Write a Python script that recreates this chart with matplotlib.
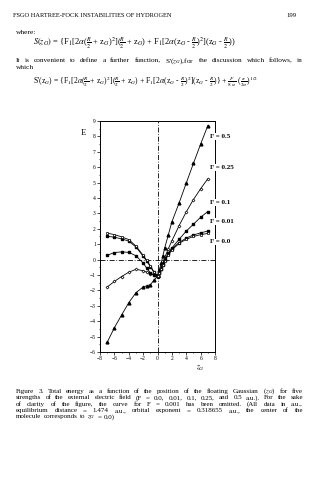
import numpy as np
import matplotlib
matplotlib.use('Agg')
import matplotlib.pyplot as plt

plt.rcParams['font.family'] = ['Liberation Serif', 'DejaVu Serif']
plt.rcParams['mathtext.fontset'] = 'stix'

# data (zG, E)
x_left = [-7, -6, -5, -4, -3, -2, -1.5, -1, -0.5, 0]
x_right = [0, 0.25, 0.5, 0.75, 1, 1.5, 2, 3, 4, 5, 6, 7]

e_f00_left = [1.72, 1.62, 1.48, 1.3, 0.88, 0.28, -0.05, -0.4, -0.8, -1.05]
e_f01_left = [1.52, 1.45, 1.35, 1.2, 0.82, 0.22, -0.1, -0.45, -0.82, -1.05]
e_f1_left = [0.28, 0.46, 0.5, 0.47, 0.25, -0.22, -0.55, -0.85, -1.0, -1.05]
e_f25_left = [-1.78, -1.42, -1.1, -0.82, -0.63, -0.72, -0.82, -0.92, -1.0, -1.05]
e_f5_left = [-5.37, -4.42, -3.6, -2.8, -2.15, -1.78, -1.7, -1.63, -1.35, -1.07]

e_f00_right = [-1.05, -0.85, -0.6, -0.35, -0.1, 0.3, 0.62, 1.05, 1.32, 1.5, 1.62, 1.7]
e_f01_right = [-1.05, -0.85, -0.6, -0.33, -0.05, 0.35, 0.7, 1.1, 1.4, 1.6, 1.74, 1.85]
e_f1_right = [-1.05, -0.85, -0.6, -0.3, 0.0, 0.4, 0.75, 1.32, 1.85, 2.3, 2.75, 3.12]
e_f25_right = [-1.05, -0.8, -0.5, -0.2, 0.12, 0.7, 1.22, 2.2, 3.1, 3.9, 4.6, 5.25]
e_f5_right = [-1.07, -0.7, -0.25, 0.25, 0.75, 1.6, 2.45, 3.67, 4.97, 6.25, 7.5, 8.7]

labels = ['F = 0.5', 'F = 0.25', 'F = 0.1', 'F = 0.01', 'F = 0.0']
label_y = [8.0, 5.97, 3.69, 2.49, 1.15]

caption = ["Figure 3. Total energy as a function of the position of the floating Gaussian ($z_G$) for five",
           "strengths of the external electric field (F = 0.0, 0.01, 0.1, 0.25, and 0.5 a.u.). For the sake",
           "of clarity of the figure, the curve for F = 0.001 has been omitted. (All data in a.u.,",
           "equilibrium distance = 1.474 a.u., orbital exponent = 0.318655 a.u., the center of the",
           "molecule corresponds to $z_G$ = 0.0)"]
body = ["It is convenient to define a further function, S'($z_G$),for the discussion which follows, in",
        "which"]
eq1 = (r"$S(z_G)$ = {F$_1$[2$\alpha$($\frac{R}{2}$ + z$_G$)$^2$]($\frac{R}{2}$ + z$_G$)"
       r" + F$_1$[2$\alpha$(z$_G$ - $\frac{R}{2}$)$^2$](z$_G$ - $\frac{R}{2}$))")
eq2 = (r"S'(z$_G$) = {F$_1$[2$\alpha$($\frac{R}{2}$ + z$_G$)$^2$]($\frac{R}{2}$ + z$_G$)"
       r" + F$_1$[2$\alpha$(z$_G$ - $\frac{R}{2}$)$^2$](z$_G$ - $\frac{R}{2}$)} + $\frac{F}{8\ \alpha}$ ($\frac{\pi}{2\alpha}$)$^{1/2}$")

W, H = 319, 480
fig = plt.figure(figsize=(W / 100, H / 100), dpi=100)
renderer = fig.canvas.get_renderer()


def fit_size(s, width, **kw):
    # font size that makes s about `width` pixels wide
    t = fig.text(0, 0, s, fontsize=10, **kw)
    w = t.get_window_extent(renderer).width
    t.remove()
    return 10 * width / w


def justify(line, y, size, x0=16, x1=303, last=False):
    words = line.split(' ')
    texts = [fig.text(0, 1 - y / H, w, fontsize=size, va='center') for w in words]
    widths = [t.get_window_extent(renderer).width for t in texts]
    if last:
        gap = size * 0.45
    else:
        gap = (x1 - x0 - sum(widths)) / (len(words) - 1)
    x = x0
    for t, w in zip(texts, widths):
        t.set_x(x / W)
        x += w + gap


text_size = 5.0

# page header
hsize = fit_size('FSGO HARTREE-FOCK INSTABILITIES OF HYDROGEN', 158)
fig.text(13 / W, 1 - 15.7 / H, 'FSGO HARTREE-FOCK INSTABILITIES OF HYDROGEN', fontsize=hsize, va='center')
fig.text(297 / W, 1 - 15.7 / H, '199', fontsize=hsize * 1.05, va='center', ha='right')

fig.text(16 / W, 1 - 32.3 / H, 'where:', fontsize=5.4, va='center')
fig.text(33 / W, 1 - 43.3 / H, eq1, fontsize=fit_size(eq1, 200), va='center')
justify(body[0], 60.7, 5.2)
justify(body[1], 67.3, 5.2, last=True)
fig.text(33 / W, 1 - 81.7 / H, eq2, fontsize=fit_size(eq2, 222), va='center')

# chart
ax = fig.add_axes([100 / W, 1 - 352 / H, 115 / W, 231 / H])
ax.set_xlim(-8, 8)
ax.set_ylim(-6, 9)
ax.axvline(0, color='k', lw=0.6, ls=(0, (6, 2, 1, 2)))
ax.axhline(0, color='k', lw=0.6, ls=(0, (6, 2, 1, 2)))

kw = dict(color='k', lw=0.6)
ax.plot(x_left, e_f5_left, marker='^', ms=2.0, **kw)
ax.plot(x_right, e_f5_right, marker='^', ms=2.0, **kw)
ax.plot(x_left, e_f25_left, marker='D', ms=1.5, mfc='white', mew=0.5, **kw)
ax.plot(x_right, e_f25_right, marker='D', ms=1.5, mfc='white', mew=0.5, **kw)
ax.plot(x_left, e_f1_left, marker='s', ms=1.9, **kw)
ax.plot(x_right, e_f1_right, marker='s', ms=1.9, **kw)
ax.plot(x_left, e_f01_left, marker='s', ms=1.7, **kw)
ax.plot(x_right, e_f01_right, marker='s', ms=1.7, **kw)
ax.plot(x_left, e_f00_left, marker='s', ms=2.1, mfc='white', mew=0.5, **kw)
ax.plot(x_right, e_f00_right, marker='s', ms=2.1, mfc='white', mew=0.5, **kw)

for lab, yy in zip(labels, label_y):
    ax.text(7.3, yy, lab, fontsize=5, fontweight='bold', va='center', ha='left', clip_on=False,
            bbox=dict(facecolor='white', edgecolor='none', pad=0.6), zorder=5)

ax.set_xticks(np.arange(-8, 9, 2))
ax.set_xticks(np.arange(-8, 9, 1), minor=True)
ax.set_yticks(np.arange(-6, 10, 1))
ax.set_yticks(np.arange(-6, 9.5, 0.5), minor=True)
ax.tick_params(which='both', direction='out', labelsize=4, pad=1, width=0.5)
ax.tick_params(which='major', length=2)
ax.tick_params(which='minor', length=1)
for s in ax.spines.values():
    s.set_linewidth(0.7)

fig.text(83.3 / W, 1 - 132.7 / H, 'E', fontsize=6, va='center', ha='center')
fig.text(200 / W, 1 - 368 / H, '$z_G$', fontsize=5.5, va='center', ha='center')

for i, line in enumerate(caption):
    justify(line, 391.5 + i * 6.3, text_size, last=(i == len(caption) - 1))

fig.savefig('out.png', dpi=100)
